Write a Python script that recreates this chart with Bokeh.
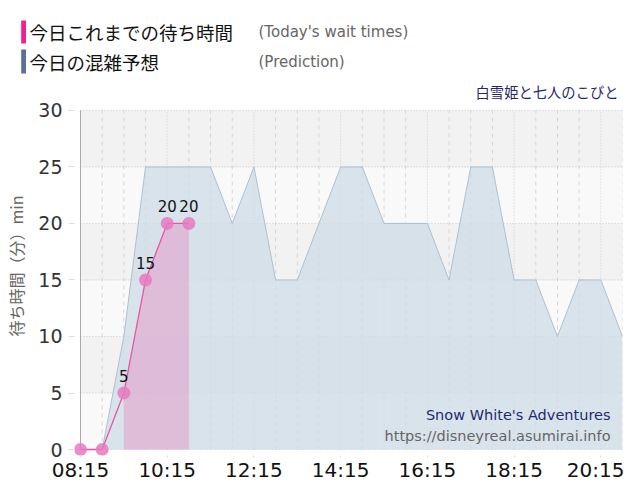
from bokeh.plotting import figure
from bokeh.layouts import column, row
from bokeh.models import (ColumnDataSource, Range1d, FixedTicker, BoxAnnotation,
                          Label, LabelSet)
from bokeh.core.properties import value
from bokeh.embed import file_html
from bokeh.resources import INLINE

# ---- data ----
times = ["08:15", "08:45", "09:15", "09:45", "10:15", "10:45", "11:15", "11:45",
         "12:15", "12:45", "13:15", "13:45", "14:15", "14:45", "15:15", "15:45",
         "16:15", "16:45", "17:15", "17:45", "18:15", "18:45", "19:15", "19:45",
         "20:15", "20:45"]
prediction = [0, 0, 10, 25, 25, 25, 25, 20, 25, 15, 15, 20, 25, 25, 20, 20,
              20, 15, 25, 25, 15, 15, 10, 15, 15, 10]
actual_times = ["08:15", "08:45", "09:15", "09:45", "10:15", "10:45"]
actual = [0, 0, 5, 15, 20, 20]
tick_labels = ["08:15", "10:15", "12:15", "14:15", "16:15", "18:15", "20:15"]
y_ticks = [0, 5, 10, 15, 20, 25, 30]


def to_min(t):
    h, m = t.split(":")
    return int(h) * 60 + int(m)


px = [to_min(t) for t in times]
ax = [to_min(t) for t in actual_times]
tick_pos = [to_min(t) for t in tick_labels]

JP = "Noto Sans CJK JP"
EN = "DejaVu Sans"

# ---------------- header (legend) ----------------
h = figure(width=624, height=76, output_backend="svg", toolbar_location=None,
           x_range=Range1d(0, 624), y_range=Range1d(76, 0),
           x_axis_type=None, y_axis_type=None, min_border=0)
h.outline_line_color = None
h.grid.visible = False
h.background_fill_color = "white"
h.border_fill_color = "white"
legend_names_jp = ["今日これまでの待ち時間", "今日の混雑予想"]
legend_names_en = ["(Today's wait times)", "(Prediction)"]
legend_colors = ["#f0208f", "#5b6f9f"]
row_top = [20, 49]
row_bot = [43, 73]
row_mid = [31.7, 61.7]
h.quad(left=20.7, right=25.5, top=row_top, bottom=row_bot, fill_color=legend_colors,
       line_color=None)
for name_jp, name_en, ym in zip(legend_names_jp, legend_names_en, row_mid):
    h.add_layout(Label(x=29, y=ym, text=name_jp, text_font=JP, text_font_size="18.5px",
                       text_baseline="middle", text_color="#111111"))
    h.add_layout(Label(x=258, y=ym, text=name_en, text_font=EN, text_font_size="15px",
                       text_baseline="middle", text_color="#666666"))

# ---------------- main chart ----------------
p = figure(width=624, height=408, output_backend="svg", toolbar_location=None,
           x_range=Range1d(486.7, 1245), y_range=Range1d(-0.529, 33.0),
           min_border_left=74, min_border_right=2, min_border_top=0,
           min_border_bottom=28)
p.outline_line_color = None
p.background_fill_color = "white"
p.border_fill_color = "white"
p.xgrid.visible = False
p.ygrid.visible = False

# background bands inside chart area
for i, (b, t) in enumerate(zip(y_ticks[:-1], y_ticks[1:])):
    col = "#f9f9f9" if i % 2 == 0 else "#f2f2f2"
    p.add_layout(BoxAnnotation(left=px[0], right=px[-1], bottom=b, top=t,
                               fill_color=col, fill_alpha=1.0, line_color=None,
                               level="underlay"))

# grid lines (limited to the chart area)
minor_x = [x for x in px if x not in tick_pos]
p.segment(x0=minor_x, y0=0, x1=minor_x, y1=30, line_color="#d6d6d6",
          line_dash="4 4", line_width=1)
p.segment(x0=tick_pos, y0=0, x1=tick_pos, y1=30, line_color="#cfcfcf",
          line_dash="1 2", line_width=1)
p.segment(x0=px[0], y0=y_ticks, x1=px[-1], y1=y_ticks, line_color="#c4c4c4",
          line_dash="1 2", line_width=1)

# axes
p.xaxis.ticker = FixedTicker(ticks=tick_pos)
p.xaxis.major_label_overrides = {t: l for t, l in zip(tick_pos, tick_labels)}
p.xaxis.axis_line_color = None
p.xaxis.major_tick_line_color = "#dddddd"
p.xaxis.major_tick_out = 2
p.xaxis.major_tick_in = 0
p.xaxis.minor_tick_line_color = None
p.xaxis.major_label_text_font = EN
p.xaxis.major_label_text_font_size = "20px"
p.xaxis.major_label_text_color = "#111111"
p.xaxis.major_label_standoff = 0

p.yaxis.ticker = FixedTicker(ticks=y_ticks)
p.yaxis.axis_line_color = None
p.yaxis.major_tick_line_color = "#dddddd"
p.yaxis.major_tick_out = 6
p.yaxis.major_tick_in = 0
p.yaxis.minor_tick_line_color = None
p.yaxis.major_label_text_font = EN
p.yaxis.major_label_text_font_size = "19px"
p.yaxis.major_label_text_color = "#333333"
p.yaxis.major_label_standoff = 6
p.yaxis.axis_label = "待ち時間（分）min"
p.yaxis.axis_label_text_font = JP
p.yaxis.axis_label_text_font_style = "normal"
p.yaxis.axis_label_text_font_size = "16px"
p.yaxis.axis_label_text_color = "#666666"
p.yaxis.axis_label_standoff = 7

# y axis line at chart area left
p.segment(x0=px[0], y0=0, x1=px[0], y1=30, line_color="#aaaaaa", line_width=1)

# prediction area
src_p = ColumnDataSource(dict(x=px, y=prediction))
p.varea(x="x", y1=0, y2="y", source=src_p, fill_color="#cfdce8", fill_alpha=0.78)
p.line(x="x", y="y", source=src_p, line_color="#adc0d0", line_width=1)

# today's wait area (filled from the third point on)
src_af = ColumnDataSource(dict(x=ax[2:], y=actual[2:]))
p.varea(x="x", y1=0, y2="y", source=src_af, fill_color="#e2a1cc", fill_alpha=0.6)
src_a = ColumnDataSource(dict(x=ax, y=actual,
                              label=[str(v) if v > 0 else "" for v in actual]))
p.line(x="x", y="y", source=src_a, line_color="#e8559f", line_width=1.3)
p.scatter(x="x", y="y", source=src_a, size=13, fill_color="#e57ac0",
          fill_alpha=0.85, line_color=None)
p.add_layout(LabelSet(x="x", y="y", text="label", source=src_a, y_offset=17,
                      text_align="center", text_baseline="middle",
                      text_font=value(EN), text_font_size=value("15px"),
                      text_color=value("#111111")))

# titles inside chart
p.add_layout(Label(x=1239.5, y=31.68, text="白雪姫と七人のこびと", text_font=JP,
                   text_font_size="14.3px", text_baseline="middle", text_align="right",
                   text_color="#1f2a6e"))
p.add_layout(Label(x=1228.4, y=3.03, text="Snow White's Adventures", text_font=EN,
                   text_font_size="14.5px", text_baseline="middle", text_align="right",
                   text_color="#1f2a6e"))
p.add_layout(Label(x=1228.4, y=1.17, text="https://disneyreal.asumirai.info", text_font=EN,
                   text_font_size="14.5px", text_baseline="middle", text_align="right",
                   text_color="#666666"))

layout = column(row(h), p, spacing=0)
open("out.html", "w").write(file_html(layout, INLINE))
